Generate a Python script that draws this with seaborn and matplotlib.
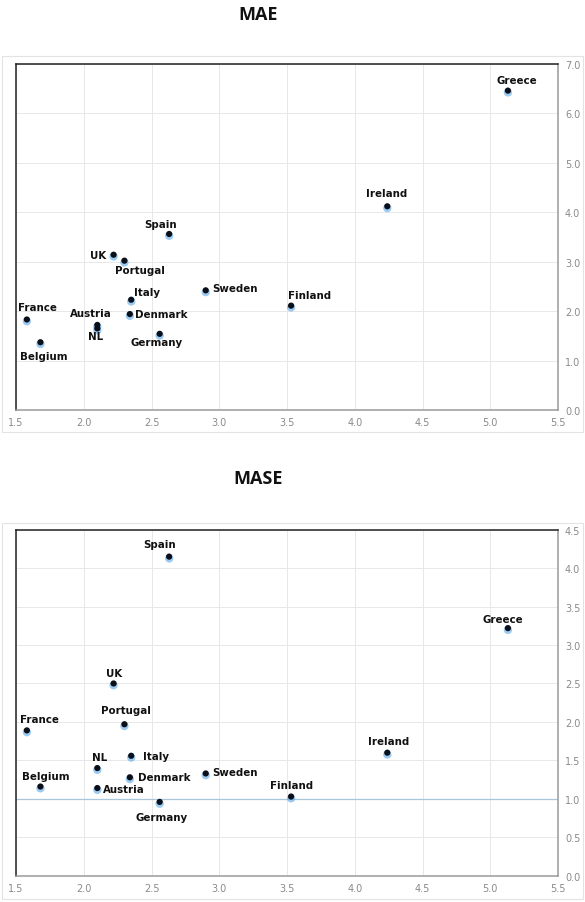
import numpy as np
import pandas as pd
import matplotlib
matplotlib.use("Agg")
import matplotlib.pyplot as plt
import matplotlib.transforms as mtransforms
from matplotlib.patches import Rectangle
import seaborn as sns

# data
countries = ["France", "Belgium", "Austria", "NL", "UK", "Portugal", "Spain", "Italy",
             "Denmark", "Germany", "Sweden", "Finland", "Ireland", "Greece"]
x_vals = [1.58, 1.68, 2.10, 2.10, 2.22, 2.30, 2.63, 2.35, 2.34, 2.56, 2.90, 3.53, 4.24, 5.13]
mae = [1.83, 1.37, 1.72, 1.65, 3.14, 3.02, 3.56, 2.23, 1.94, 1.54, 2.42, 2.11, 4.12, 6.46]
mase = [1.89, 1.16, 1.14, 1.40, 2.50, 1.97, 4.15, 1.56, 1.28, 0.96, 1.33, 1.03, 1.60, 3.22]

# label placement (pixel offsets from dot, alignment)
mae_lab = {
    "France": (11, 12, "center"), "Belgium": (3, -14, "center"), "Austria": (-7, 12, "center"),
    "NL": (-2, -8, "center"), "UK": (-7, 0, "right"), "Portugal": (16, -9, "center"),
    "Spain": (-9, 10, "center"), "Italy": (16, 8, "center"), "Denmark": (5, 0, "left"),
    "Germany": (-3, -8, "center"), "Sweden": (7, 2, "left"), "Finland": (-3, 11, "left"),
    "Ireland": (-1, 13, "center"), "Greece": (9, 11, "center"),
}
mase_lab = {
    "France": (13, 11, "center"), "Belgium": (5, 11, "center"), "Austria": (6, -1, "left"),
    "NL": (2, 11, "center"), "UK": (1, 10, "center"), "Portugal": (2, 14, "center"),
    "Spain": (-10, 13, "center"), "Italy": (12, 0, "left"), "Denmark": (8, 0, "left"),
    "Germany": (2, -15, "center"), "Sweden": (7, 1, "left"), "Finland": (0, 12, "center"),
    "Ireland": (1, 12, "center"), "Greece": (-5, 9, "center"),
}

df = pd.DataFrame({"country": countries, "x": x_vals, "MAE": mae, "MASE": mase})

sns.set_style("white")
plt.rcParams["font.family"] = ["DejaVu Sans"]

fig = plt.figure(figsize=(5.85, 9.03), dpi=100)

panels = [
    ("MAE", [0.0274, 0.5449, 0.9265, 0.3832], 7.0, 1.0, mae_lab, 1 - 15 / 903, (2, 57, 583, 433)),
    ("MASE", [0.0274, 0.0291, 0.9265, 0.3832], 4.5, 0.5, mase_lab, 1 - 479 / 903, (2, 524, 583, 900)),
]

for col, rect, ymax, ystep, labs, ty, box in panels:
    # light outer frame of the chart area
    x0, y0, x1, y1 = box
    fig.patches.append(Rectangle((x0 / 585, 1 - y1 / 903), (x1 - x0) / 585, (y1 - y0) / 903,
                                 transform=fig.transFigure, fill=False,
                                 edgecolor="#e3e3e3", lw=0.8, zorder=0))
    fig.text(0.441, ty, col, ha="center", va="center", fontsize=13,
             fontweight="bold", family=["Open Sans", "DejaVu Sans"], color="#111111")

    ax = fig.add_axes(rect)
    ax.set_xlim(1.5, 5.5)
    ax.set_ylim(0, ymax)
    ax.set_xticks(np.arange(1.5, 5.51, 0.5))
    ax.set_yticks(np.arange(0, ymax + 0.01, ystep))
    ax.xaxis.set_major_formatter(matplotlib.ticker.FormatStrFormatter("%.1f"))
    ax.yaxis.set_major_formatter(matplotlib.ticker.FormatStrFormatter("%.1f"))
    ax.yaxis.tick_right()
    ax.tick_params(length=0, labelsize=7, labelcolor="#8a8a8a", pad=5)
    ax.grid(True, color="#e8e8e8", lw=0.7)
    ax.set_axisbelow(True)
    for s in ["left", "top"]:
        ax.spines[s].set_color("#222222")
        ax.spines[s].set_linewidth(1.1)
    for s in ["right", "bottom"]:
        ax.spines[s].set_color("#9a9a9a")
        ax.spines[s].set_linewidth(1.1)

    if col == "MASE":
        ax.axhline(1.0, color="#a8c6dc", lw=0.9, zorder=1)

    # soft blue glow under each dot
    shadow = mtransforms.offset_copy(ax.transData, fig=fig, x=0, y=-1.8, units="dots")
    sns.scatterplot(data=df, x="x", y=col, ax=ax, s=36, color="#5aa8e8", alpha=0.6,
                    edgecolor="none", transform=shadow, zorder=2, legend=False)
    sns.scatterplot(data=df, x="x", y=col, ax=ax, s=20, color="#0a0f1a",
                    edgecolor="none", zorder=3, legend=False)
    ax.set_xlabel("")
    ax.set_ylabel("")

    for _, r in df.iterrows():
        dx, dy, ha = labs[r["country"]]
        ax.annotate(r["country"], (r["x"], r[col]), xytext=(dx, dy),
                    textcoords="offset pixels", ha=ha, va="center",
                    fontsize=7.4, fontweight="bold", color="#111111", zorder=4)

fig.savefig("out.png", dpi=100)
